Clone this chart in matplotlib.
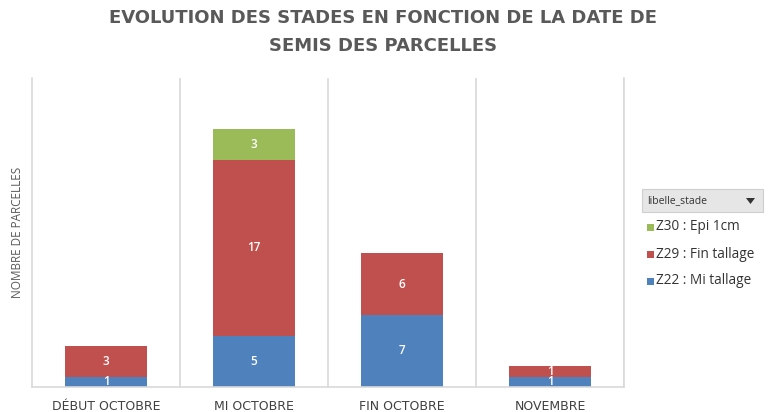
import matplotlib
matplotlib.use("Agg")
import matplotlib.pyplot as plt
from matplotlib.patches import Rectangle, Polygon

categories = ["DÉBUT OCTOBRE", "MI OCTOBRE", "FIN OCTOBRE", "NOVEMBRE"]
z22 = [1, 5, 7, 1]
z29 = [3, 17, 6, 1]
z30 = [0, 3, 0, 0]
series_names = ["Z30 : Epi 1cm", "Z29 : Fin tallage", "Z22 : Mi tallage"]
colors = {"Z22": "#4F81BD", "Z29": "#C0504D", "Z30": "#9BBB59"}

plt.rcParams['font.family'] = ['Open Sans', 'DejaVu Sans']

fig = plt.figure(figsize=(7.7, 4.12), dpi=100)
ax = fig.add_axes([32/770, 25/412, (624-32)/770, (387-78)/412])

x = list(range(len(categories)))
w = 0.56
b1 = ax.bar(x, z22, w, color=colors["Z22"])
b2 = ax.bar(x, z29, w, bottom=z22, color=colors["Z29"])
bot3 = [a + b for a, b in zip(z22, z29)]
b3 = ax.bar(x, z30, w, bottom=bot3, color=colors["Z30"])

for bars, vals, bots in [(b1, z22, [0]*4), (b2, z29, z22), (b3, z30, bot3)]:
    for xi, v, bt in zip(x, vals, bots):
        if v > 0:
            ax.text(xi, bt + v/2, str(v), ha='center', va='center', color='white',
                    fontsize=8.5, fontweight='semibold')

ax.set_xlim(-0.5, len(categories) - 0.5)
ax.set_ylim(0, 30)
ax.set_yticks([])
ax.set_xticks(x)
ax.set_xticklabels(categories, fontsize=9, color='#404040', fontfamily='DejaVu Sans')
ax.tick_params(axis='x', length=0, pad=9)
for sep in [0.5, 1.5, 2.5, 3.5]:
    ax.axvline(sep, color='#d9d9d9', lw=1.2)
ax.spines['top'].set_visible(False)
for s in ['right', 'left', 'bottom']:
    ax.spines[s].set_color('#d9d9d9')
    ax.spines[s].set_linewidth(1.2)

ax.set_ylabel("NOMBRE DE PARCELLES", fontsize=8.5, color='#595959', labelpad=6)

fig.text(383/770, 1 - 18/412, "EVOLUTION DES STADES EN FONCTION DE LA DATE DE",
         ha='center', va='center', fontsize=13, fontweight='bold', color='#595959',
         family=['DejaVu Sans'])
fig.text(383/770, 1 - 46/412, "SEMIS DES PARCELLES",
         ha='center', va='center', fontsize=13, fontweight='bold', color='#595959',
         family=['DejaVu Sans'])

# Legend header
hx0, hy0, hx1, hy1 = 642, 189, 763, 212
fig.patches.append(Rectangle((hx0/770, 1 - hy1/412), (hx1-hx0)/770, (hy1-hy0)/412,
                             transform=fig.transFigure, facecolor='#e6e6e6', edgecolor='#cfcfcf', lw=0.8))
fig.text(647/770, 1 - 200.5/412, "libelle_stade", ha='left', va='center', fontsize=7.5, color='#333333')
tri = [(746/770, 1 - 198/412), (755/770, 1 - 198/412), (750.5/770, 1 - 204/412)]
fig.patches.append(Polygon(tri, closed=True, transform=fig.transFigure, facecolor='#333333', edgecolor='none'))

entries = [(series_names[0], colors["Z30"], 227), (series_names[1], colors["Z29"], 254),
           (series_names[2], colors["Z22"], 281)]
for name, col, yy in entries:
    fig.patches.append(Rectangle((647/770, 1 - (yy+3.5)/412), 7/770, 7/412,
                                 transform=fig.transFigure, facecolor=col, edgecolor='none'))
    fig.text(656/770, 1 - yy/412, name, ha='left', va='center', fontsize=9.8, color='#333333')

fig.savefig("out.png", dpi=100, facecolor='white')
